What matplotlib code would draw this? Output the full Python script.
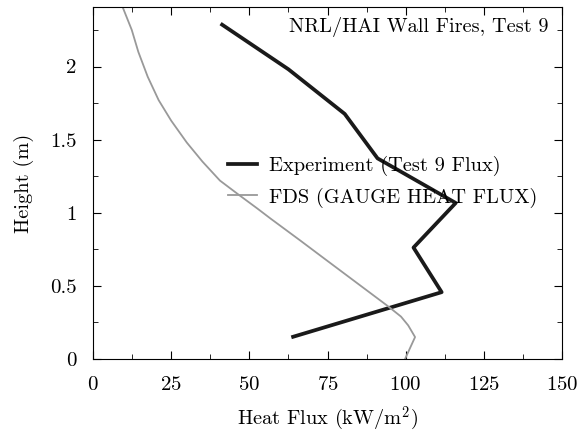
import numpy as np
import matplotlib
matplotlib.use("Agg")
import matplotlib.pyplot as plt
from matplotlib.ticker import MultipleLocator

plt.rcParams["font.family"] = "serif"
plt.rcParams["font.serif"] = ["cmr10"]
plt.rcParams["mathtext.fontset"] = "cm"
plt.rcParams["axes.unicode_minus"] = False
plt.rcParams["axes.formatter.use_mathtext"] = True

# measured data (heights at 1 ft spacing)
exp_height = [0.152, 0.457, 0.762, 1.067, 1.372, 1.676, 1.981, 2.286]
exp_flux = [64.0, 111.5, 102.5, 116.0, 91.0, 80.5, 62.5, 41.3]

# FDS gauge heat flux
fds_height = [0.0, 0.08, 0.15, 0.23, 0.29, 0.36, 0.52, 0.68, 0.81, 0.96, 1.03, 1.12, 1.22,
              1.35, 1.48, 1.63, 1.77, 1.93, 2.10, 2.25, 2.40]
fds_flux = [99.8, 101.5, 103.0, 100.8, 98.5, 94.4, 84.4, 74.4, 66.3, 56.8, 52.5, 46.8, 40.6,
            35.0, 30.0, 25.0, 21.0, 17.5, 14.5, 12.4, 9.6]

fig = plt.figure(figsize=(5.79, 4.34), dpi=100)
ax = fig.add_axes([0.1606, 0.1728, 0.8101, 0.8111])

ax.plot(exp_flux, exp_height, color="#1a1a1a", linewidth=2.7, label="Experiment (Test 9 Flux)")
ax.plot(fds_flux, fds_height, color="#999999", linewidth=1.3, label="FDS (GAUGE HEAT FLUX)")

ax.set_xlim(0, 150)
ax.set_ylim(0, 2.407)
ax.set_xticks([0, 25, 50, 75, 100, 125, 150])
ax.set_yticks([0, 0.5, 1, 1.5, 2])
ax.set_yticklabels(["0", "0.5", "1", "1.5", "2"])
ax.xaxis.set_minor_locator(MultipleLocator(12.5))
ax.yaxis.set_minor_locator(MultipleLocator(0.25))
ax.tick_params(which="both", direction="in", top=True, right=True, labelsize=15, pad=12)
ax.tick_params(which="major", length=5.5)
ax.tick_params(which="minor", length=3.5)

ax.set_xlabel(r"Heat Flux (kW/m$^2$)", fontsize=14.7, labelpad=8)
ax.set_ylabel("Height (m)", fontsize=14.7, labelpad=11)

ax.text(0.972, 0.972, "NRL/HAI Wall Fires, Test 9", transform=ax.transAxes,
        ha="right", va="top", fontsize=14.6)

ax.legend(loc="center left", bbox_to_anchor=(0.288, 0.503), frameon=False, fontsize=14.7,
          borderpad=0, borderaxespad=0, handlelength=1.4, handletextpad=0.6, labelspacing=0.55)

fig.savefig("out.png", dpi=100)
